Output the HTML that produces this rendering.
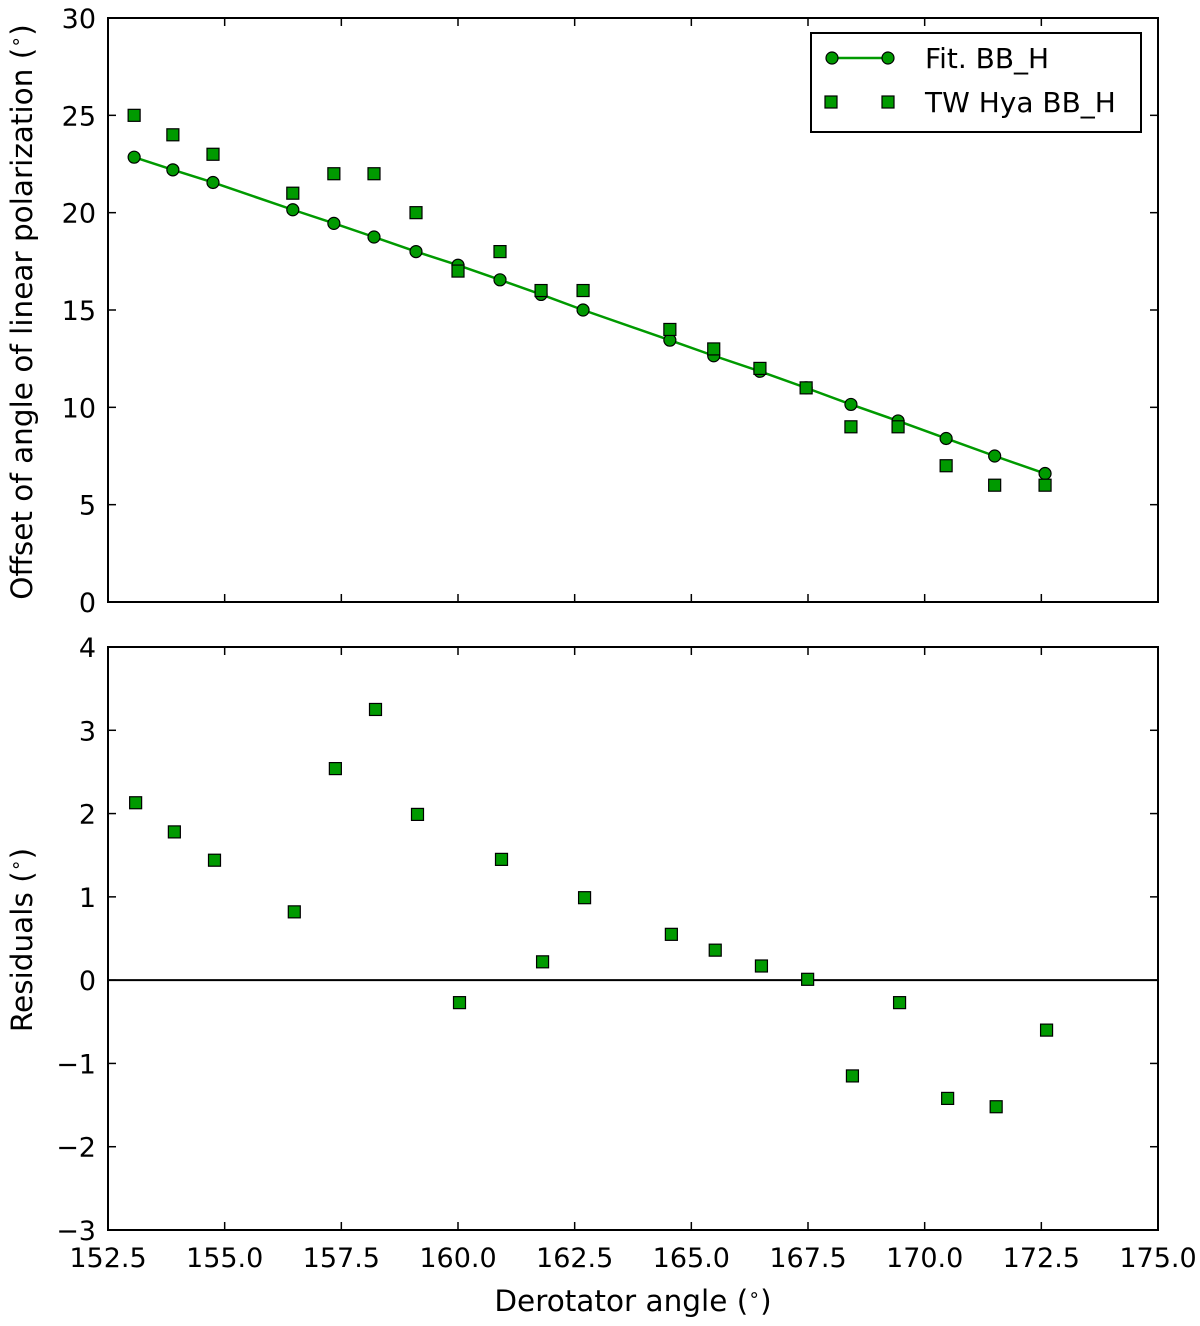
<!DOCTYPE html>
<html><head><meta charset="utf-8"><style>
html,body{margin:0;padding:0;background:#fff}
svg{display:block;font-family:"DejaVu Sans","Liberation Sans",sans-serif}
</style></head><body>
<svg id="chart" width="1200" height="1326" viewBox="0 0 1200 1326">
<g id="topPanel"></g>
<g id="botPanel"></g>
<text x="32" y="312" font-size="29.5" text-anchor="middle" transform="rotate(-90 32 312)">Offset of angle of linear polarization (<tspan font-size="19" dy="-10">∘</tspan><tspan dy="10">)</tspan></text>
<text x="32" y="940" font-size="29.5" text-anchor="middle" transform="rotate(-90 32 940)">Residuals (<tspan font-size="19" dy="-10">∘</tspan><tspan dy="10">)</tspan></text>
<text x="633" y="1311" font-size="29.5" text-anchor="middle">Derotator angle (<tspan font-size="19" dy="-10">∘</tspan><tspan dy="10">)</tspan></text>
<g>
<rect x="811" y="33" width="330" height="99" fill="#fff" stroke="#000" stroke-width="2"/>
<line x1="830" y1="58" x2="890" y2="58" stroke="#009a00" stroke-width="2.5"/>
<circle cx="832" cy="58" r="6" fill="#009a00" stroke="#000" stroke-width="1.2"/>
<circle cx="888" cy="58" r="6" fill="#009a00" stroke="#000" stroke-width="1.2"/>
<text x="925" y="68" font-size="28">Fit. BB_H</text>
<rect x="825" y="96" width="12" height="12" fill="#009a00" stroke="#000" stroke-width="1.2"/>
<rect x="882" y="96" width="12" height="12" fill="#009a00" stroke="#000" stroke-width="1.2"/>
<text x="925" y="112" font-size="28">TW Hya BB_H</text>
</g>
</svg>
<script>
const angles=[153.06,153.89,154.75,156.46,157.34,158.2,159.1,160.0,160.9,161.78,162.68,164.54,165.48,166.47,167.46,168.42,169.43,170.46,171.5,172.58];
const measured=[25,24,23,21,22,22,20,17,18,16,16,14,13,12,11,9,9,7,6,6];
const fitValues=[22.85,22.2,21.55,20.15,19.45,18.75,18.0,17.3,16.55,15.8,15.0,13.45,12.65,11.85,11.0,10.15,9.3,8.4,7.5,6.6];
const residuals=[2.13,1.78,1.44,0.82,2.54,3.25,1.99,-0.27,1.45,0.22,0.99,0.55,0.36,0.17,0.01,-1.15,-0.27,-1.42,-1.52,-0.6];
const xTicks=[152.5,155.0,157.5,160.0,162.5,165.0,167.5,170.0,172.5,175.0];
const yTicksTop=[0,5,10,15,20,25,30];
const yTicksBot=[-3,-2,-1,0,1,2,3,4];
const NS="http://www.w3.org/2000/svg";
const L=108,R=1158;
const xs=v=>L+(v-152.5)/22.5*(R-L);
const yTop=v=>602-(v/30)*584;
const yBot=v=>1230-((v+3)/7)*583;
function mk(t,a,p){const e=document.createElementNS(NS,t);for(const k in a)e.setAttribute(k,a[k]);p.appendChild(e);return e;}
const G="#009a00";
function axes(g,y0,y1,ys,yt,showX){
  for(const t of xTicks){const x=xs(t);
    mk('line',{x1:x,y1:y1,x2:x,y2:y1-8,stroke:'#000','stroke-width':1.5},g);
    mk('line',{x1:x,y1:y0,x2:x,y2:y0+8,stroke:'#000','stroke-width':1.5},g);
    if(showX){const tx=mk('text',{x:x,y:y1+37,'font-size':27,'text-anchor':'middle'},g);tx.textContent=t.toFixed(1);
      
      }
  }
  for(const t of yt){const y=ys(t);
    mk('line',{x1:L,y1:y,x2:L+8,y2:y,stroke:'#000','stroke-width':1.5},g);
    mk('line',{x1:R,y1:y,x2:R-8,y2:y,stroke:'#000','stroke-width':1.5},g);
    const tx=mk('text',{x:L-12,y:y+10,'font-size':27,'text-anchor':'end'},g);tx.textContent=t<0?'\u2212'+(-t):String(t);
    
    }
  mk('rect',{x:L,y:y0,width:R-L,height:y1-y0,fill:'none',stroke:'#000','stroke-width':2},g);
}
function sq(g,x,y){const r=mk('rect',{x:x-6,y:y-6,width:12,height:12,fill:G,stroke:'#000','stroke-width':1.2},g);
  
  }
const topG=document.getElementById('topPanel'),botG=document.getElementById('botPanel');
axes(topG,18,602,yTop,yTicksTop,false);
axes(botG,647,1230,yBot,yTicksBot,true);
const pl=mk('polyline',{points:angles.map((a,i)=>xs(a)+','+yTop(fitValues[i])).join(' '),fill:'none',stroke:G,'stroke-width':2.5},topG);


angles.forEach((a,i)=>{const c=mk('circle',{cx:xs(a),cy:yTop(fitValues[i]),r:6,fill:G,stroke:'#000','stroke-width':1.2},topG);
  
  });
angles.forEach((a,i)=>sq(topG,xs(a),yTop(measured[i])));
const z=mk('line',{x1:L,y1:yBot(0),x2:R,y2:yBot(0),stroke:'#000','stroke-width':2},botG);


angles.forEach((a,i)=>sq(botG,xs(a)+1.5,yBot(residuals[i])));
</script>
</body></html>
